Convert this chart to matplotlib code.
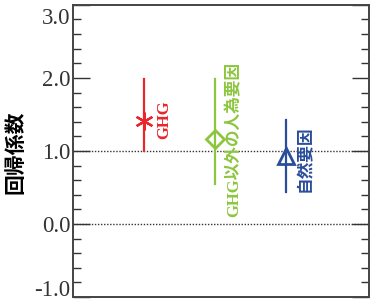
import matplotlib
matplotlib.use("Agg")
import matplotlib.pyplot as plt
import matplotlib.transforms as mtransforms
from matplotlib.ticker import MultipleLocator

# 値
labels = ["GHG", "GHG以外の人為要因", "自然要因"]
best = [1.41, 1.16, 0.93]
low = [1.00, 0.55, 0.44]
high = [1.98, 1.99, 1.43]
colors = ["#e8262b", "#8cc63e", "#2a4d9b"]
markers = [(6, 2, 0), "D", "^"]
yticks = [-1.0, 0.0, 1.0, 2.0, 3.0]

fig = plt.figure(figsize=(3.74, 3.05), dpi=100)
ax = fig.add_axes([0.195, 0.026, 0.792, 0.958])

ax.axhline(1.0, color="#333333", ls=(0, (1, 1.2)), lw=1.0, zorder=1)
ax.axhline(0.0, color="#333333", ls=(0, (1, 1.2)), lw=1.0, zorder=1)

text_dy = [0.02, 0.0, -0.03]
for i in range(len(labels)):
    ax.plot([i, i], [low[i], high[i]], color=colors[i], lw=1.6, zorder=2)
    ax.plot(i, best[i], marker=markers[i], color=colors[i], mfc="none",
            mew=2.0 if i else 1.6, ms=[13, 9, 12][i], zorder=3)
    ax.text(i + 0.28, best[i] + text_dy[i], labels[i],
            rotation=90, color=colors[i], fontsize=12, fontweight="bold",
            family=["Liberation Serif", "Noto Sans CJK JP"],
            ha="center", va="center")

ax.set_xlim(-1.0, 3.17)
ax.set_ylim(-1.0, 3.0)
ax.set_xticks([])
ax.set_yticks(yticks)
ax.set_yticklabels(["%.1f" % v for v in yticks],
                   family="Liberation Serif", fontsize=16.5, color="#333333")
ax.yaxis.set_minor_locator(MultipleLocator(0.2))
ax.tick_params(axis="y", which="major", direction="in", length=12,
               width=1.0, color="#333333", right=True, pad=2)
ax.tick_params(axis="y", which="minor", direction="in", length=6,
               width=1.0, color="#333333", right=True)
for s in ax.spines.values():
    s.set_color("#444444")
    s.set_linewidth(1.4)

# 端のラベルを内側へ
tl = ax.get_yticklabels()
tl[-1].set_va("top")
tl[-1].set_transform(tl[-1].get_transform() +
                     mtransforms.ScaledTranslation(0, -2 / 72, fig.dpi_scale_trans))
tl[0].set_va("bottom")
tl[0].set_transform(tl[0].get_transform() +
                    mtransforms.ScaledTranslation(0, -3 / 72, fig.dpi_scale_trans))

fig.text(0.04, 0.5, "回帰係数", rotation=90, fontsize=15, fontweight="bold",
         family=["Noto Sans CJK JP"], ha="center", va="center")

fig.savefig("out.png", dpi=100)
